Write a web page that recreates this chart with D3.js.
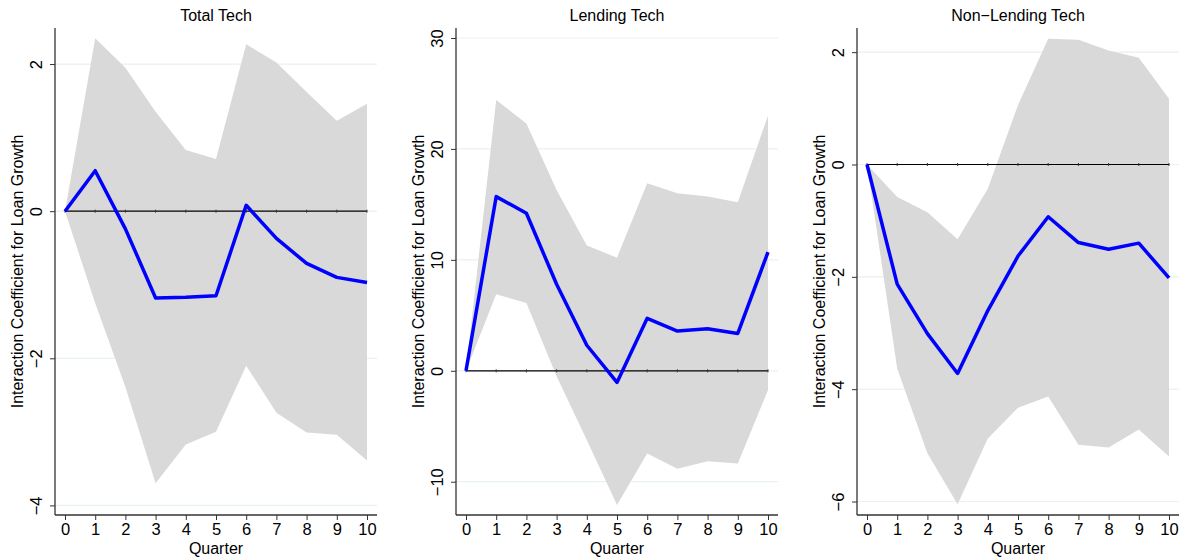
<!DOCTYPE html>
<html>
<head>
<meta charset="utf-8">
<script src="https://cdn.jsdelivr.net/npm/d3@7"></script>
<style>
  body { margin: 0; background: #fff; }
  text { font-family: "Liberation Sans", Arial, sans-serif; fill: #000; }
</style>
</head>
<body>
<script>
// quarters after the shock
var quarters = [0, 1, 2, 3, 4, 5, 6, 7, 8, 9, 10];

var titles = ["Total Tech", "Lending Tech", "Non\u2212Lending Tech"];

// point estimates
var totalCoef    = [0, 0.55, -0.24, -1.18, -1.17, -1.15, 0.08, -0.37, -0.71, -0.90, -0.97];
var lendingCoef  = [0, 15.7, 14.2, 7.8, 2.3, -1.05, 4.73, 3.58, 3.79, 3.37, 10.7];
var nonLendCoef  = [0, -2.13, -3.01, -3.72, -2.6, -1.63, -0.93, -1.39, -1.51, -1.40, -2.02];

// confidence band, upper
var totalHi   = [0, 2.35, 1.95, 1.35, 0.83, 0.71, 2.27, 2.02, 1.62, 1.23, 1.46];
var lendingHi = [0, 24.4, 22.3, 16.3, 11.3, 10.2, 16.9, 16.0, 15.7, 15.2, 23.0];
var nonLendHi = [0, -0.58, -0.85, -1.33, -0.43, 1.06, 2.24, 2.22, 2.03, 1.90, 1.17];

// confidence band, lower
var totalLo   = [0, -1.25, -2.39, -3.70, -3.17, -3.0, -2.1, -2.74, -3.01, -3.04, -3.39];
var lendingLo = [0, 6.9, 6.1, -0.5, -6.25, -12.1, -7.46, -8.84, -8.15, -8.36, -1.74];
var nonLendLo = [0, -3.63, -5.14, -6.05, -4.88, -4.33, -4.13, -4.99, -5.04, -4.72, -5.20];

// y axis ticks
var totalTicks   = [-4, -2, 0, 2];
var lendingTicks = [-10, 0, 10, 20, 30];
var nonLendTicks = [-6, -4, -2, 0, 2];

var panels = [
  { title: titles[0], coef: totalCoef,   hi: totalHi,   lo: totalLo,   ticks: totalTicks,   dom: [-4.13, 2.49], left: 55 },
  { title: titles[1], coef: lendingCoef, hi: lendingHi, lo: lendingLo, ticks: lendingTicks, dom: [-13.0, 30.9], left: 456 },
  { title: titles[2], coef: nonLendCoef, hi: nonLendHi, lo: nonLendLo, ticks: nonLendTicks, dom: [-6.24, 2.43], left: 857 }
];

var W = 1189, H = 560,
    plotTop = 28, plotBottom = 515, pw = 322, pad = 10;

var svg = d3.select("body").append("svg")
  .attr("width", W).attr("height", H);

panels.forEach(function(p) {
  var x = d3.scaleLinear().domain([0, 10]).range([p.left + pad, p.left + pw - pad]),
      y = d3.scaleLinear().domain(p.dom).range([plotBottom, plotTop]),
      g = svg.append("g");

  // gridlines
  g.selectAll("line.grid").data(p.ticks).enter().append("line")
    .attr("x1", p.left).attr("x2", p.left + pw)
    .attr("y1", function(d) { return y(d); }).attr("y2", function(d) { return y(d); })
    .attr("stroke", "#e8f1f3").attr("stroke-width", 1.2);

  // band
  var area = d3.area()
    .x(function(d, i) { return x(quarters[i]); })
    .y0(function(d, i) { return y(p.lo[i]); })
    .y1(function(d, i) { return y(p.hi[i]); });
  g.append("path").datum(quarters).attr("d", area).attr("fill", "#d9d9d9");

  // zero line with small marks
  g.append("line")
    .attr("x1", x(0)).attr("x2", x(10)).attr("y1", y(0)).attr("y2", y(0))
    .attr("stroke", "#000").attr("stroke-width", 1.2);
  g.selectAll("line.zm").data(quarters).enter().append("line")
    .attr("x1", function(d) { return x(d); }).attr("x2", function(d) { return x(d); })
    .attr("y1", y(0) - 1.5).attr("y2", y(0) + 1.5)
    .attr("stroke", "#333").attr("stroke-width", 1);

  // estimate
  var line = d3.line()
    .x(function(d, i) { return x(quarters[i]); })
    .y(function(d) { return y(d); });
  g.append("path").datum(p.coef).attr("d", line)
    .attr("fill", "none").attr("stroke", "#0000ff").attr("stroke-width", 3.5)
    .attr("stroke-linejoin", "round");

  // axes
  var xa = g.append("g").attr("transform", "translate(0," + plotBottom + ")")
    .call(d3.axisBottom(x).tickValues(quarters).tickSize(5).tickPadding(3).tickFormat(d3.format("d")));
  xa.select(".domain").attr("d", "M" + p.left + ",0H" + (p.left + pw)).attr("stroke", "#333").attr("stroke-width", 1.3);
  xa.selectAll(".tick line").attr("stroke", "#333");
  xa.selectAll(".tick text").attr("font-size", 16.5).attr("font-family", "Liberation Sans, Arial, sans-serif");

  var ya = g.append("g").attr("transform", "translate(" + p.left + ",0)")
    .call(d3.axisLeft(y).tickValues(p.ticks).tickSize(5).tickFormat(function(d) { return d < 0 ? "\u2212" + (-d) : d; }));
  ya.select(".domain").attr("d", "M0," + plotTop + "V" + plotBottom).attr("stroke", "#333").attr("stroke-width", 1.3);
  ya.selectAll(".tick line").attr("stroke", "#333");
  ya.selectAll(".tick text")
    .attr("font-size", 16.5).attr("font-family", "Liberation Sans, Arial, sans-serif")
    .attr("x", null).attr("dy", null).attr("text-anchor", "middle")
    .attr("transform", "translate(-13,0) rotate(-90)");

  // labels
  g.append("text").attr("x", p.left + pw / 2).attr("y", 21)
    .attr("text-anchor", "middle").attr("font-size", 16).text(p.title);
  g.append("text").attr("x", p.left + pw / 2).attr("y", 554)
    .attr("text-anchor", "middle").attr("font-size", 16).text("Quarter");
  g.append("text")
    .attr("transform", "translate(" + (p.left - 32) + "," + ((plotTop + plotBottom) / 2) + ") rotate(-90)")
    .attr("text-anchor", "middle").attr("font-size", 16)
    .text("Interaction Coefficient for Loan Growth");
});
</script>
</body>
</html>
